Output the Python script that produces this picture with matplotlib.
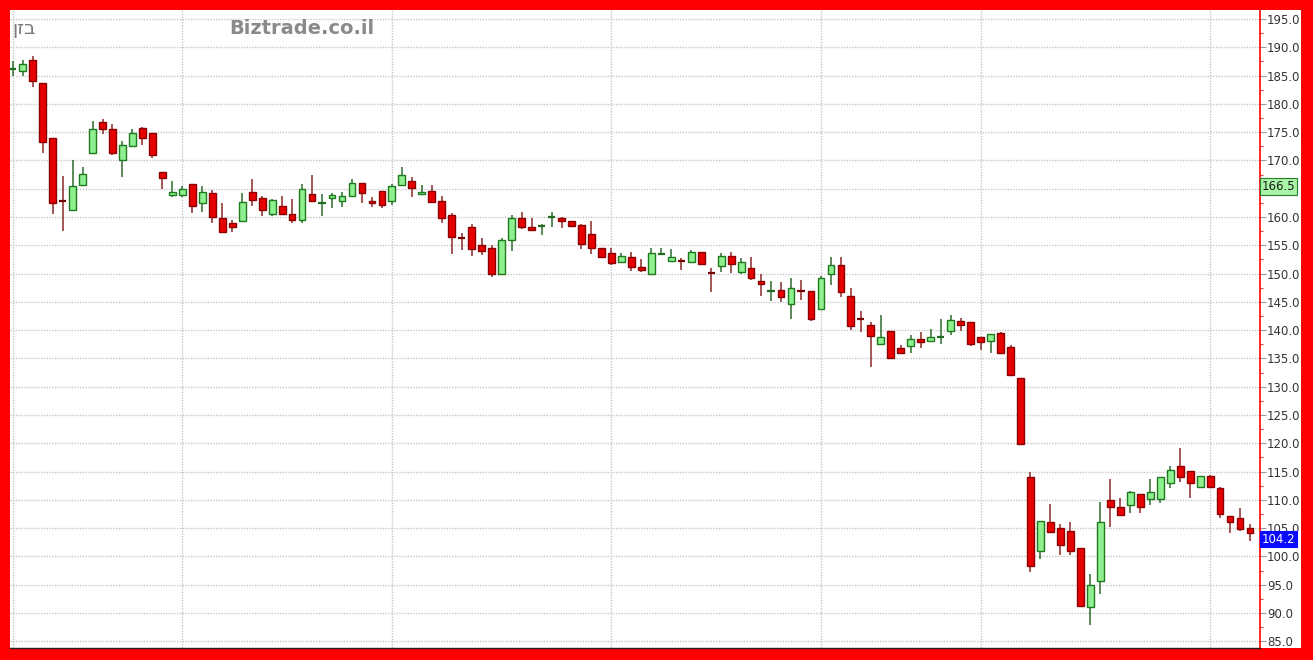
import numpy as np
import matplotlib
matplotlib.use("Agg")
import matplotlib.pyplot as plt
from matplotlib.patches import Rectangle

# OHLC (one row per session)
opens = [186.0, 185.8, 187.8, 183.7, 174.0, 163.1, 161.2, 165.6, 171.4, 176.8,
         175.5, 170.0, 172.5, 175.8, 174.8, 167.9, 163.9, 163.9, 165.9, 162.5,
         164.3, 159.9, 158.9, 159.3, 164.5, 163.4, 160.5, 162.0, 160.6, 159.4,
         164.0, 162.4, 163.3, 162.8, 163.7, 166.1, 162.9, 164.6, 162.8, 165.6,
         166.4, 164.0, 164.6, 162.9, 160.3, 156.5, 158.2, 155.0, 154.5, 149.9,
         156.0, 159.9, 158.3, 158.2, 159.9, 159.8, 159.3, 158.5, 157.0, 154.5,
         153.7, 152.0, 152.9, 151.2, 149.9, 153.3, 152.2, 152.4, 152.1, 153.9,
         150.2, 151.3, 153.1, 150.2, 150.9, 148.7, 146.9, 147.1, 144.7, 147.1,
         146.9, 143.7, 149.9, 151.6, 146.0, 142.0, 140.9, 137.6, 139.9, 136.8,
         137.2, 138.4, 138.1, 138.6, 139.9, 141.6, 141.5, 138.8, 138.1, 139.5,
         137.0, 131.6, 114.0, 100.9, 106.0, 105.1, 104.4, 101.5, 91.0, 95.7,
         110.0, 108.8, 109.1, 111.0, 110.2, 110.1, 113.0, 116.0, 115.1, 112.3,
         114.2, 112.1, 107.2, 106.8, 105.1]
highs = [187.5, 187.8, 188.5, 183.7, 174.0, 167.2, 170.0, 168.8, 177.0, 177.3,
         176.4, 173.5, 175.5, 176.0, 174.8, 167.9, 166.4, 165.4, 165.9, 165.4,
         164.8, 162.4, 159.4, 164.3, 166.8, 163.7, 163.2, 163.8, 163.1, 165.8,
         167.5, 164.0, 164.3, 164.4, 166.8, 166.1, 163.6, 164.6, 165.9, 168.9,
         167.0, 165.6, 165.6, 163.7, 160.7, 157.1, 158.7, 156.3, 155.0, 156.3,
         160.3, 160.9, 159.9, 158.8, 160.8, 160.0, 159.3, 158.8, 159.3, 154.5,
         154.5, 153.6, 153.9, 152.6, 154.6, 154.6, 154.3, 152.8, 154.2, 153.9,
         150.9, 153.6, 153.9, 152.8, 153.0, 150.0, 148.6, 148.5, 149.2, 148.8,
         147.0, 149.5, 153.0, 153.0, 147.4, 143.4, 141.4, 142.7, 139.9, 137.3,
         139.2, 139.6, 140.2, 141.9, 142.7, 142.1, 141.5, 138.8, 139.4, 139.7,
         137.4, 131.6, 115.0, 106.2, 109.2, 105.7, 106.0, 101.5, 96.8, 109.6,
         113.7, 110.4, 111.6, 111.0, 113.7, 114.0, 115.9, 119.1, 115.1, 114.2,
         114.3, 112.3, 107.2, 108.6, 105.7]
lows = [185.0, 185.0, 183.0, 171.3, 160.6, 157.6, 161.2, 165.4, 171.4, 174.6,
        171.0, 167.0, 172.5, 172.8, 170.5, 165.0, 163.6, 163.6, 160.7, 160.9,
        159.0, 157.3, 157.4, 159.1, 162.0, 160.2, 160.2, 160.4, 159.0, 159.0,
        162.8, 160.2, 161.6, 161.8, 163.5, 162.4, 161.8, 161.6, 162.1, 165.4,
        163.5, 164.0, 162.4, 159.0, 153.4, 154.2, 153.1, 153.3, 149.4, 149.9,
        154.0, 157.9, 157.5, 156.9, 158.3, 158.1, 158.2, 154.3, 153.4, 152.8,
        151.5, 152.0, 150.5, 150.2, 149.7, 153.3, 152.1, 150.7, 152.0, 151.7,
        146.8, 150.3, 150.1, 150.0, 148.9, 146.0, 145.2, 145.0, 141.9, 145.3,
        141.6, 143.5, 148.0, 145.8, 140.0, 139.6, 133.4, 137.5, 135.0, 135.8,
        136.0, 136.9, 138.0, 137.5, 139.2, 139.9, 137.2, 136.5, 136.0, 135.9,
        132.0, 119.8, 97.2, 99.5, 104.2, 100.2, 100.2, 91.2, 87.9, 93.3,
        105.2, 107.1, 107.7, 107.7, 109.0, 109.5, 112.0, 113.1, 110.3, 112.3,
        112.2, 106.7, 104.2, 104.5, 102.7]
closes = [186.1, 187.0, 184.0, 173.3, 162.5, 162.9, 165.5, 167.6, 175.5, 175.6,
          171.4, 172.7, 174.8, 173.9, 171.0, 166.9, 164.5, 165.0, 162.0, 164.4,
          160.0, 157.3, 158.3, 162.6, 163.0, 161.2, 163.0, 160.5, 159.4, 165.0,
          162.8, 162.5, 163.9, 163.8, 166.1, 164.3, 162.4, 162.1, 165.4, 167.5,
          165.2, 164.5, 162.6, 159.9, 156.5, 156.3, 154.3, 154.0, 149.9, 155.9,
          159.8, 158.3, 157.7, 158.4, 160.0, 159.3, 158.4, 155.2, 154.6, 153.0,
          151.8, 153.1, 151.1, 150.7, 153.7, 153.4, 152.9, 152.3, 153.9, 151.7,
          150.1, 153.1, 151.7, 152.1, 149.3, 148.1, 147.0, 145.8, 147.4, 147.0,
          141.9, 149.3, 151.6, 146.7, 140.7, 141.9, 138.9, 138.8, 135.0, 136.0,
          138.4, 137.9, 138.7, 138.7, 141.8, 140.9, 137.5, 137.9, 139.3, 136.0,
          132.0, 119.8, 98.3, 106.2, 104.3, 102.0, 100.9, 91.3, 95.0, 106.1,
          108.8, 107.4, 111.4, 108.7, 111.3, 114.0, 115.3, 114.1, 112.9, 114.2,
          112.3, 107.5, 106.1, 104.9, 104.2]

# sessions that start a new month (vertical grid)
month_starts = [0, 17, 38, 60, 81, 97, 120]
yticks = np.arange(85, 196, 5)
marker_price = 166.5
last_price = 104.2
title = "בזן"
watermark = "Biztrade.co.il"

W, H = 1313, 660
fig = plt.figure(figsize=(W / 100, H / 100), dpi=100, facecolor="#ff0000")
# white strip behind the price labels (kept under the axes)
fig.patches.append(Rectangle((1259 / W, 12 / H), 42 / W, 638 / H, zorder=-1,
                             transform=fig.transFigure, fc="white", ec="none"))
ax = fig.add_axes([10 / W, 12 / H, 1250 / W, 638 / H])
ax.set_facecolor("white")

o = np.array(opens); h = np.array(highs); l = np.array(lows); c = np.array(closes)
x = np.arange(len(o))
up = c >= o
doji = np.abs(c - o) < 0.25

up_fill, up_edge = "#8ef08e", "#1f7a1f"
dn_fill, dn_edge = "#e60000", "#8b0000"
wick_col = np.where(up, "#2e6b2e", "#8b2a2a")

ax.vlines(x, l, h, colors=wick_col, linewidth=1.1, zorder=2)
body = ~doji
ax.bar(x[body & up], (c - o)[body & up], bottom=o[body & up], width=0.68,
       color=up_fill, edgecolor=up_edge, linewidth=1.0, zorder=3)
ax.bar(x[body & ~up], (o - c)[body & ~up], bottom=c[body & ~up], width=0.68,
       color=dn_fill, edgecolor=dn_edge, linewidth=1.0, zorder=3)
ax.hlines(c[doji], x[doji] - 0.36, x[doji] + 0.36,
          colors=np.where(up[doji], "#1f6b1f", "#7a0000"), linewidth=1.6, zorder=3)

ax.set_xlim(-0.27, 125.0)
ax.set_ylim(83.8, 196.6)
ax.set_xticks([])
ax.set_yticks(yticks)
# the 165.0 label sits under the 166.5 marker box in the original
ax.set_yticklabels(["" if abs(v - marker_price) < 2 else f"{v:.1f}" for v in yticks])
ax.set_yticks(np.arange(87.5, 196, 5), minor=True)
ax.yaxis.tick_right()
ax.tick_params(axis="y", which="major", length=4, width=0.8, color="#999999",
               pad=1, labelsize=8.5, labelcolor="#333333")
ax.tick_params(axis="y", which="minor", length=2, width=0.8, color="#e04040")

ax.grid(axis="y", which="major", color="#c8c8c8", linestyle=(0, (1, 1)), linewidth=1.0, zorder=0)
for m in month_starts:
    ax.axvline(m, color="#c4c4c4", linestyle=(0, (1, 1)), linewidth=1.0, zorder=0)

for side in ("left", "top"):
    ax.spines[side].set_visible(False)
ax.spines["right"].set_color("#ff0000")
ax.spines["right"].set_linewidth(1.2)
ax.spines["bottom"].set_color("#222222")
ax.spines["bottom"].set_linewidth(1.0)

ax.annotate(f"{marker_price:.1f}", xy=(1.0, marker_price), xycoords=("axes fraction", "data"),
            xytext=(1.5, 0), textcoords="offset points", ha="left", va="top",
            fontsize=8.5, color="#1a1a1a", annotation_clip=False, zorder=5,
            bbox=dict(boxstyle="square,pad=0.15", fc="#a8f5a8", ec="#2e7d2e", lw=0.8))
ax.annotate(f"{last_price:.1f}", xy=(1.0, last_price), xycoords=("axes fraction", "data"),
            xytext=(1.5, 0), textcoords="offset points", ha="left", va="top",
            fontsize=8.5, color="white", annotation_clip=False, zorder=5,
            bbox=dict(boxstyle="square,pad=0.15", fc="#0a0aff", ec="#0a0aff", lw=0.8))

# matplotlib has no bidi, so feed the Hebrew word in visual order
fig.text(12 / W, 1 - 29 / H, title[::-1], fontsize=14, color="#7a7a7a", va="center", ha="left")
fig.text(229 / W, 1 - 28 / H, watermark, fontsize=14, fontweight="bold",
         color="#8a8a8a", va="center", ha="left")

fig.savefig("out.png", dpi=100, facecolor=fig.get_facecolor())
